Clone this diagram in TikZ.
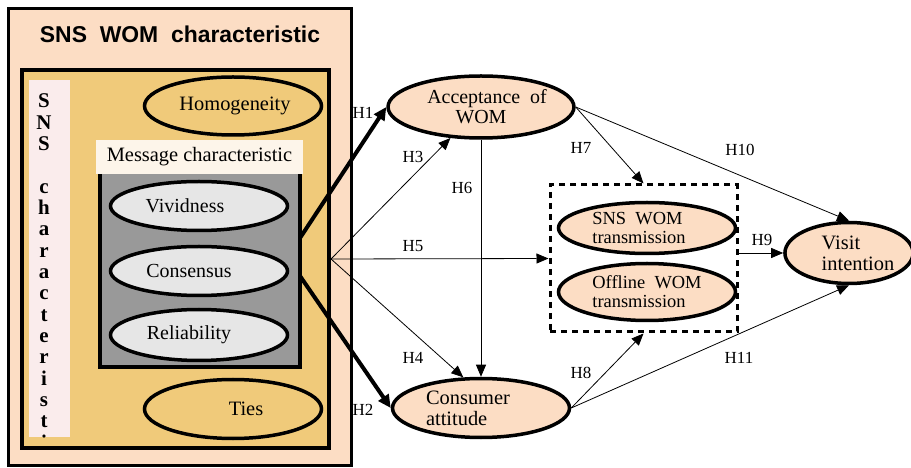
\documentclass[tikz,border=0pt]{standalone}
\usepackage{fontspec}
\setmainfont{Liberation Serif}
\newfontfamily\headfont{Liberation Sans}
\usetikzlibrary{shapes.geometric,arrows.meta}

\definecolor{peach}{RGB}{252,221,196}
\definecolor{gold}{RGB}{240,202,122}
\definecolor{blush}{RGB}{250,236,236}
\definecolor{cream}{RGB}{253,245,234}
\definecolor{midgray}{RGB}{153,153,153}
\definecolor{lightgray}{RGB}{230,230,230}

\tikzset{
  oval/.style={ellipse, draw, line width=3.5bp, inner sep=0pt},
  hyp/.style={-{Triangle[length=12bp,width=10bp]}, line width=0.8bp},
  hypbold/.style={-{Triangle[length=13bp,width=12bp]}, line width=4bp},
  hlab/.style={font=\fontsize{17}{17}\selectfont, inner sep=0pt},
  vlet/.style={font=\bfseries\fontsize{21}{21}\selectfont, anchor=base, inner sep=0pt},
}

\begin{document}
\begin{tikzpicture}[x=1bp, y=-1bp]
    \useasboundingbox (0,0) rectangle (911,468);

    \node[draw, line width=3bp, fill=peach, minimum width=343bp, minimum height=457bp] (outerbox) at (180,237) {};
    \node[font=\headfont\bfseries\fontsize{23}{23}\selectfont] (title) at (180,34) {SNS\ \ WOM\ \ characteristic};
    \node[draw, line width=4bp, fill=gold, minimum width=307bp, minimum height=378bp] (innerbox) at (175.5,259) {};
    \node[fill=blush, minimum width=41bp, minimum height=357bp, inner sep=0pt] (strip) at (49.5,258.5) {};

    \begin{scope}
        \clip (strip.south west) rectangle (strip.north east);
        \foreach \i/\ch in {0/S,1/N,2/S,4/c,5/h,6/a,7/r,8/a,9/c,10/t,11/e,12/r,13/i,14/s,15/t,16/i}
            \node[vlet] (v\i) at (44,108+21.33*\i) {\ch};
    \end{scope}

    \node[oval, fill=gold, minimum width=177bp, minimum height=58bp, font=\fontsize{20.5}{21}\selectfont] (homog) at (233,106) {\hspace*{4bp}Homogeneity};
    \node[oval, fill=gold, minimum width=177bp, minimum height=59bp, font=\fontsize{20.5}{21}\selectfont] (ties) at (233,409) {\hspace*{26bp}Ties};

    \node[draw, line width=4bp, fill=midgray, minimum width=200bp, minimum height=197bp] (msgbox) at (200,268.5) {};
    \node[fill=cream, minimum width=207bp, minimum height=34bp, inner sep=0pt, font=\fontsize{20.5}{21}\selectfont] (msglab) at (199.5,157) {Message characteristic};

    \node[oval, fill=lightgray, minimum width=177bp, minimum height=49bp, font=\fontsize{20}{20}\selectfont] (vivid) at (199,206) {Vividness\hspace*{28bp}};
    \node[oval, fill=lightgray, minimum width=177bp, minimum height=49bp, font=\fontsize{20}{20}\selectfont] (consensus) at (199,271) {Consensus\hspace*{20bp}};
    \node[oval, fill=lightgray, minimum width=177bp, minimum height=51bp, font=\fontsize{20}{20}\selectfont] (reliab) at (199,335) {Reliability\hspace*{20bp}};

    \node[oval, fill=peach, minimum width=177bp, minimum height=62bp, align=center, font=\fontsize{20}{20}\selectfont] (accept) at (481,107) {\hspace*{12bp}Acceptance\ \ of\\WOM};
    \node[oval, fill=peach, minimum width=177bp, minimum height=59bp, align=left, font=\fontsize{20.5}{21}\selectfont] (attitude) at (481,408) {Consumer\hspace*{26bp}\\attitude};
    \node[draw, line width=3bp, dash pattern=on 6bp off 5bp, minimum width=187bp, minimum height=147bp] (dashbox) at (643.5,258.5) {};
    \node[oval, fill=peach, minimum width=177bp, minimum height=51bp, align=left, font=\fontsize{18.5}{19}\selectfont] (snswom) at (647,228) {SNS\ \ WOM\\transmission\hspace*{16bp}};
    \node[oval, fill=peach, minimum width=177bp, minimum height=57bp, align=left, font=\fontsize{18.5}{19}\selectfont] (offwom) at (647,292) {Offline\ \ WOM\\transmission};
    \node[oval, fill=peach, minimum width=119bp, minimum height=61bp, align=left, font=\fontsize{20.5}{21}\selectfont] (visit) at (849,253) {\hspace*{18bp}Visit\\\hspace*{18bp}intention};

    \coordinate (h1s) at (300,238);
    \coordinate (h2s) at (300,276);

    \draw[hypbold] (h1s) -- (accept.west);
    \draw[hypbold] (h2s) -- (attitude.west);
    \draw[hyp] (innerbox.east) -- (accept);
    \draw[hyp] (innerbox.east) -- (attitude.120);
    \draw[hyp] (innerbox.east) -- (dashbox.west);
    \draw[hyp] (accept.south) -- (attitude.north);
    \draw[hyp] (accept.east) -- (dashbox.north);
    \draw[hyp] (attitude.east) -- (dashbox.south);
    \draw[hyp] (dashbox.east |- visit) -- (visit.west);
    \draw[hyp] (accept.east) -- (visit.north);
    \draw[hyp] (attitude.east) -- (visit.south);

    \node[hlab] (l1) at (363,113) {H1};
    \node[hlab] (l2) at (363,410) {H2};
    \node[hlab] (l3) at (413,157) {H3};
    \node[hlab] (l4) at (413,358) {H4};
    \node[hlab] (l5) at (413,246) {H5};
    \node[hlab] (l6) at (462,188) {H6};
    \node[hlab] (l7) at (581,148) {H7};
    \node[hlab] (l8) at (581,373) {H8};
    \node[hlab] (l9) at (762,240) {H9};
    \node[hlab] (l10) at (740,150) {H10};
    \node[hlab] (l11) at (739,358) {H11};
\end{tikzpicture}
\end{document}
